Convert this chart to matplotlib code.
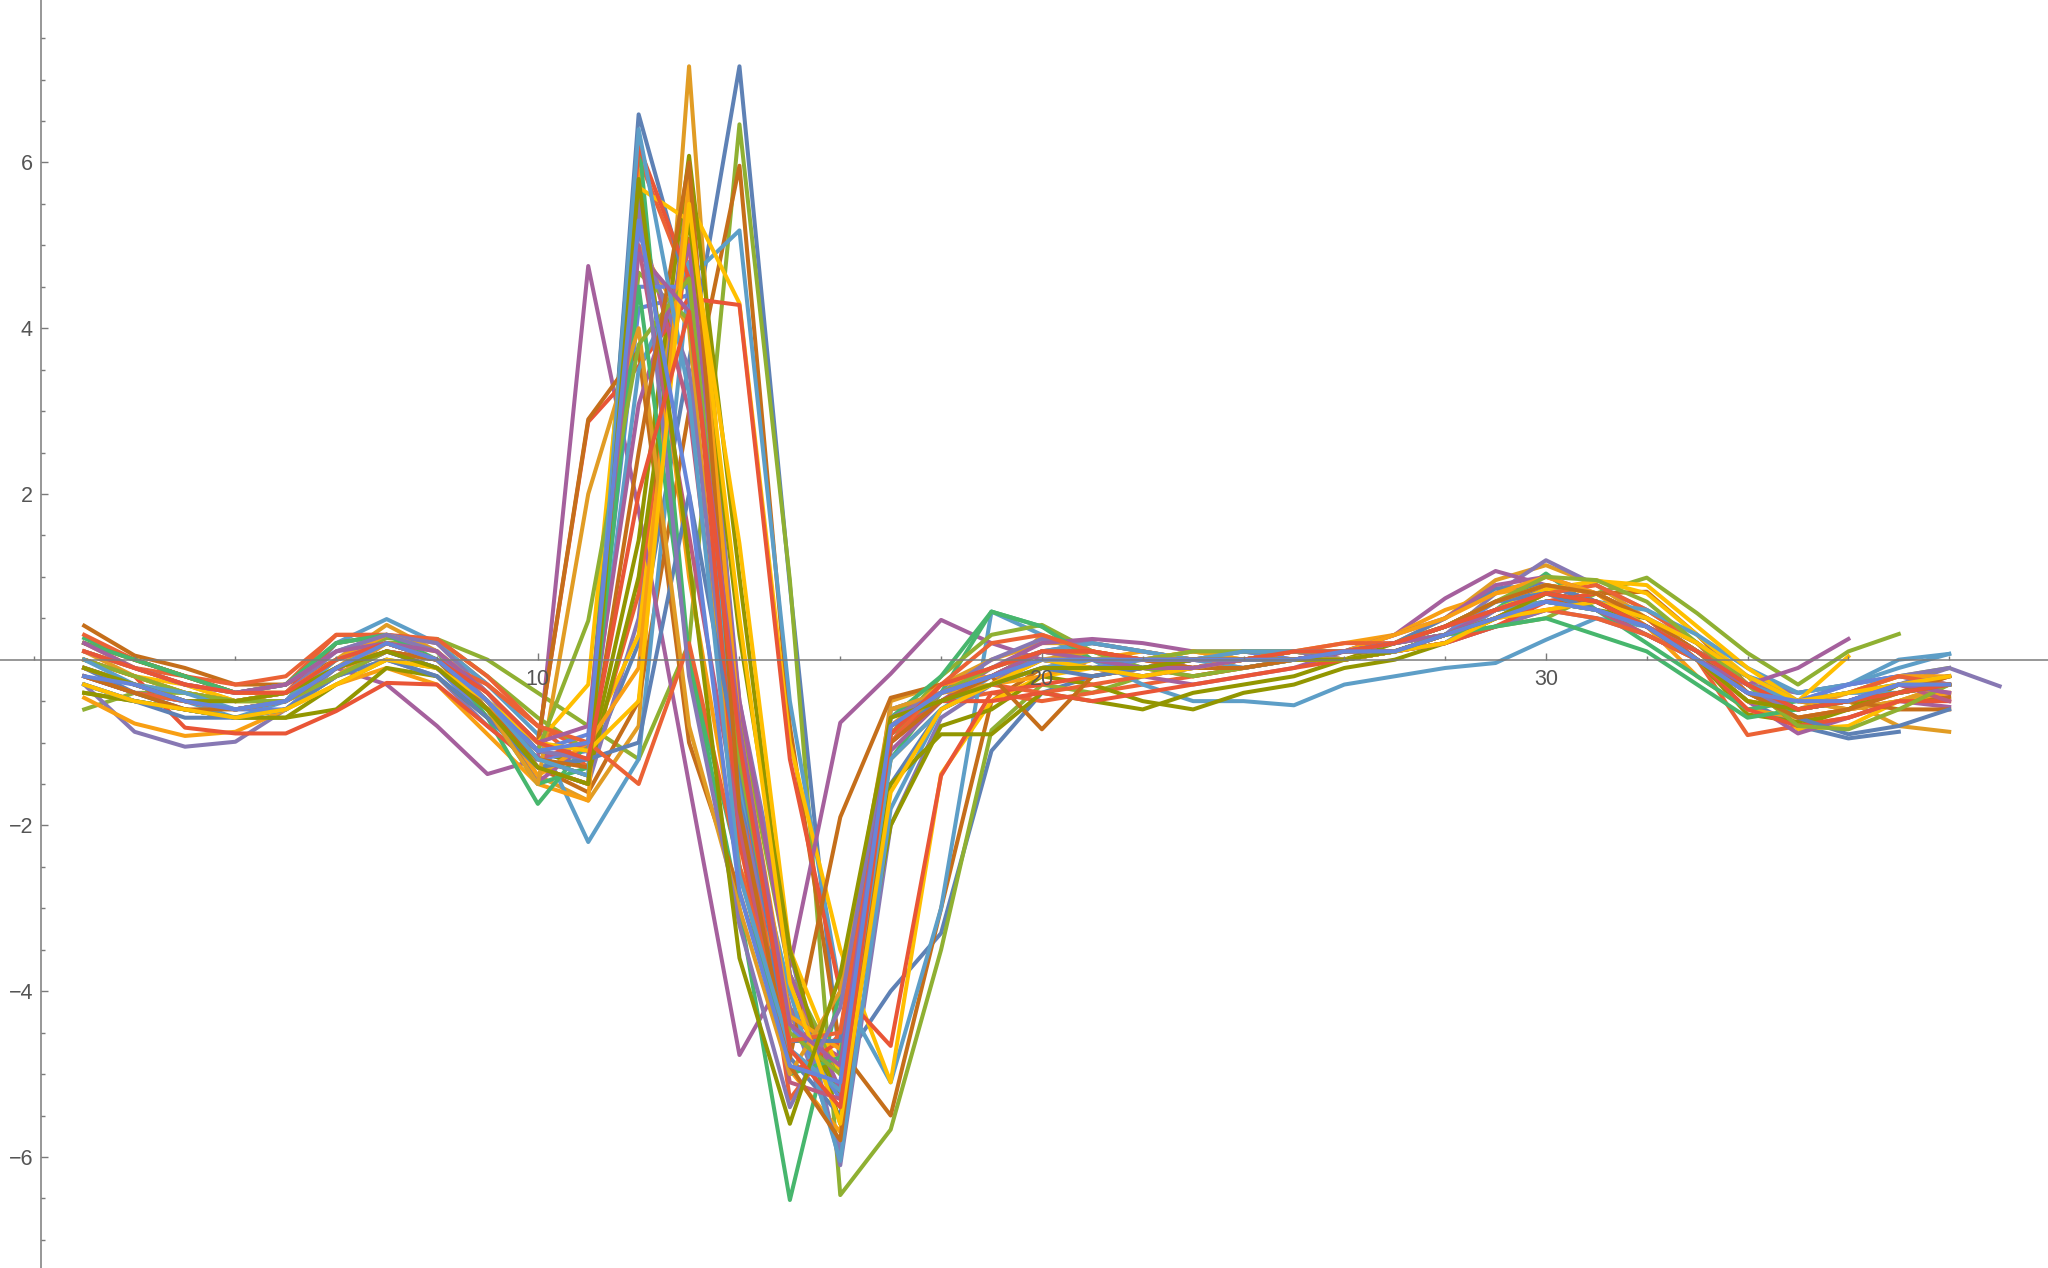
import numpy as np
import matplotlib
matplotlib.use("Agg")
import matplotlib.pyplot as plt
from matplotlib.ticker import FixedLocator, FuncFormatter

# Mathematica default palette (ColorData 97)
palette = ["#5E81B5", "#E19C24", "#8FB032", "#EB6235", "#8778B3", "#C56E1A",
           "#5D9EC7", "#FFBF00", "#A5609D", "#929600", "#E95536", "#6685D9",
           "#F89F13", "#BC5B80", "#47B66D"]

s01 = [-0.1,-0.4,-0.6,-0.7,-0.6,-0.2,0.1,-0.1,-0.6,-1.1,
       -1.3,0.2,3.6,7.16,0.9,-4.9,-4.0,-3.3,-1.1,-0.4,
       -0.2,-0.1,0.0,0.0,0.1,0.0,0.1,0.3,0.6,0.9,
       0.7,0.4,0.0,-0.5,-0.8,-0.95,-0.87]
s02 = [0.2,-0.1,-0.3,-0.5,-0.5,-0.1,0.3,0.1,-0.6,-1.4,
       -1.7,-0.8,7.16,-1.0,-4.3,-5.2,-1.2,-0.6,-0.3,0.3,
       0.1,0.0,-0.1,0.0,0.1,0.0,0.2,0.5,0.96,1.14,
       0.9,0.5,0.0,-0.5,-0.6,-0.5,-0.8,-0.87]
s03 = [-0.6,-0.4,-0.4,-0.5,-0.4,-0.1,0.2,0.25,0.0,-0.4,
       -0.8,-1.2,0.2,6.46,0.96,-6.46,-5.67,-3.5,-0.85,-0.3,
       -0.4,-0.2,-0.1,0.0,0.0,0.1,0.2,0.3,0.4,0.5,
       0.8,0.99,0.56,0.08,-0.3,0.1,0.31]
s04 = [0.1,-0.1,-0.2,-0.4,-0.3,0.3,0.3,0.2,-0.3,-0.8,
       -1.1,6.06,4.5,-1.5,-4.2,-5.0,-1.0,-0.5,-0.4,-0.5,
       -0.4,-0.3,-0.2,-0.1,0.0,0.0,0.1,0.2,0.5,0.8,
       0.7,0.4,0.0,-0.91,-0.8,-0.7,-0.5,-0.3]
s05 = [-0.3,-0.87,-1.05,-0.99,-0.6,-0.2,0.0,-0.2,-0.8,-1.3,
       -1.5,0.5,5.83,-0.5,-3.5,-6.1,-2.0,-0.7,-0.3,0.1,
       0.2,0.1,0.0,-0.1,0.0,0.1,0.1,0.3,0.8,1.2,
       0.9,0.6,0.2,-0.3,-0.5,-0.4,-0.3,-0.1,-0.32]
s06 = [0.41,0.05,-0.1,-0.3,-0.3,0.0,0.2,0.0,-0.5,-1.3,
       -1.6,-0.5,3.0,5.96,-0.8,-4.7,-5.5,-3.0,-0.5,-0.1,
       0.0,-0.1,-0.2,-0.1,0.0,0.0,0.1,0.3,0.5,0.7,
       0.8,0.82,0.3,-0.3,-0.5,-0.6,-0.5,-0.45]
s07 = [-0.2,-0.4,-0.5,-0.7,-0.5,0.2,0.49,0.2,-0.3,-0.9,
       -2.2,-1.2,4.6,5.18,-0.5,-4.0,-5.1,-3.0,0.58,0.3,
       0.0,-0.3,-0.5,-0.5,-0.55,-0.3,-0.2,-0.1,-0.04,0.24,
       0.5,0.4,0.1,-0.2,-0.4,-0.3,-0.1,0.07]
s08 = [0.0,-0.2,-0.3,-0.5,-0.5,-0.1,0.2,0.0,-0.5,-1.2,
       -1.0,0.3,5.52,4.3,-1.0,-3.5,-5.1,-1.38,-0.5,-0.2,
       -0.1,0.0,0.0,0.1,0.1,0.0,0.1,0.2,0.5,0.8,
       0.96,0.8,0.3,-0.2,-0.84,-0.8,-0.5,-0.3]
s09 = [-0.1,-0.3,-0.5,-0.6,-0.5,-0.1,-0.3,-0.8,-1.38,-1.2,
       4.75,1.8,-1.5,-4.77,-3.7,-0.76,-0.17,0.48,0.2,0.0,
       -0.1,-0.2,-0.3,-0.2,-0.1,0.1,0.3,0.74,1.07,0.9,
       0.7,0.4,0.0,-0.5,-0.89,-0.7,-0.5,-0.57]
s10 = [-0.4,-0.5,-0.6,-0.7,-0.7,-0.3,0.0,-0.1,-0.6,-1.1,
       -1.3,1.44,6.08,1.0,-3.8,-5.3,-2.0,-0.8,-0.6,-0.2,
       -0.3,-0.5,-0.6,-0.4,-0.3,-0.1,0.0,0.2,0.5,0.7,
       0.6,0.3,0.0,-0.66,-0.75,-0.6,-0.3,-0.2]
s11 = [0.2,0.0,-0.2,-0.4,-0.4,0.2,0.3,0.1,-0.4,-1.0,
       2.87,3.54,4.36,4.28,-1.2,-4.0,-4.66,-1.4,-0.4,-0.3,
       -0.2,-0.1,0.0,0.0,0.1,0.1,0.1,0.2,0.4,0.6,
       0.7,0.5,0.2,-0.3,-0.6,-0.5,-0.4,-0.2]
s12 = [-0.3,-0.5,-0.6,-0.7,-0.6,-0.2,0.1,-0.1,-0.7,-1.2,
       -1.1,4.24,4.4,-1.0,-4.6,-4.6,-0.9,-0.5,-0.2,0.0,
       -0.1,-0.2,-0.1,0.0,0.0,0.0,0.1,0.2,0.6,0.7,
       0.6,0.4,0.0,-0.4,-0.5,-0.3,-0.2,-0.3]
s13 = [-0.46,-0.77,-0.92,-0.87,-0.6,-0.3,-0.1,-0.3,-0.9,-1.5,
       -1.7,5.9,1.0,-2.5,-4.95,-5.7,-0.6,-0.4,-0.3,-0.2,
       0.0,0.1,0.0,0.0,0.1,0.2,0.3,0.6,0.8,0.9,
       0.8,0.4,-0.2,-0.6,-0.7,-0.6,-0.5,-0.4]
s14 = [0.0,-0.2,-0.4,-0.5,-0.4,0.0,0.2,0.0,-0.6,-1.3,
       -1.2,5.37,3.0,-2.0,-4.4,-4.8,-0.8,-0.4,-0.1,0.1,
       0.0,-0.1,-0.1,0.0,0.0,0.1,0.2,0.4,0.7,0.9,
       0.7,0.4,0.0,-0.4,-0.6,-0.5,-0.3,-0.4]
s15 = [0.26,0.0,-0.2,-0.4,-0.3,0.2,0.3,0.1,-0.7,-1.74,
       -1.0,6.3,0.0,-3.0,-6.52,-4.0,-1.2,-0.4,0.58,0.4,
       0.1,-0.1,-0.1,0.0,0.1,0.1,0.2,0.3,0.6,1.04,
       0.6,0.2,-0.2,-0.6,-0.5,-0.4,-0.3,-0.2]
s16 = [-0.2,-0.4,-0.6,-0.7,-0.6,-0.1,0.2,0.0,-0.5,-1.2,
       -1.4,6.58,4.4,-1.6,-4.8,-5.5,-1.5,-0.6,-0.3,0.0,
       -0.1,-0.1,0.0,0.0,0.1,0.1,0.2,0.5,0.86,0.9,
       0.7,0.5,0.1,-0.4,-0.6,-0.5,-0.4,-0.3]
s17 = [0.1,-0.2,-0.4,-0.5,-0.4,0.0,0.42,0.1,-0.5,-1.3,
       -1.5,5.0,4.0,-2.5,-4.0,-5.0,-0.5,-0.3,0.0,0.2,
       0.2,0.1,0.0,0.0,0.1,0.1,0.2,0.4,0.7,0.9,
       0.8,0.5,0.2,-0.3,-0.5,-0.6,-0.5,-0.3]
s18 = [-0.1,-0.3,-0.4,-0.5,-0.5,0.0,0.26,0.25,-0.2,-0.7,
       -1.1,4.67,4.1,-0.7,-3.8,-5.0,-0.9,-0.2,0.3,0.42,
       0.1,-0.1,-0.2,-0.1,0.0,0.1,0.1,0.3,0.5,0.7,
       0.6,0.4,0.1,-0.2,-0.5,-0.4,-0.2,-0.1]
s19 = [0.3,0.0,-0.2,-0.3,-0.2,0.3,0.3,0.25,-0.2,-0.8,
       -1.3,0.8,5.08,-1.2,-5.3,-4.5,-0.6,-0.5,-0.3,-0.4,
       -0.3,-0.2,-0.1,0.0,0.0,0.0,0.1,0.3,0.5,0.8,
       0.9,0.6,0.2,-0.4,-0.7,-0.6,-0.4,-0.3]
s20 = [-0.1,-0.3,-0.5,-0.5,-0.4,0.1,0.3,0.2,-0.4,-1.1,
       -1.2,5.16,3.5,-1.8,-4.2,-5.93,-1.0,-0.4,0.0,0.25,
       0.2,0.1,0.0,0.1,0.1,0.0,0.1,0.2,0.4,0.6,
       0.5,0.3,0.0,-0.3,-0.4,-0.3,-0.2,-0.1]
s21 = [0.2,0.0,-0.2,-0.4,-0.4,0.0,0.2,0.0,-0.5,-1.0,
       2.9,3.73,-1.0,-2.8,-4.81,-1.9,-0.46,-0.3,-0.2,-0.84,
       -0.2,-0.1,0.0,0.0,0.0,0.0,0.1,0.3,0.5,0.7,
       0.7,0.5,0.1,-0.3,-0.5,-0.5,-0.6,-0.6]
s22 = [-0.3,-0.5,-0.6,-0.7,-0.6,-0.2,0.1,0.0,-0.6,-1.3,
       -1.2,3.5,4.8,-1.5,-4.0,-6.05,-1.8,-0.6,-0.2,0.1,
       0.2,0.1,0.0,-0.1,0.0,0.1,0.2,0.4,0.6,0.8,
       0.7,0.6,0.3,-0.1,-0.4,-0.3,0.0,0.07]
s23 = [0.1,-0.1,-0.3,-0.4,-0.4,0.0,0.2,0.1,-0.4,-1.0,
       -0.3,5.7,5.3,1.4,-3.5,-5.0,-0.79,-0.5,-0.3,-0.1,
       0.0,0.0,0.1,0.0,0.0,0.0,0.1,0.3,0.6,0.85,
       0.95,0.9,0.4,-0.1,-0.5,0.04]
s24 = [-0.2,-0.4,-0.5,-0.6,-0.5,-0.1,0.1,-0.1,-0.6,-1.48,
       -1.0,3.08,5.0,-0.5,-3.8,-5.2,-1.1,-0.5,-0.1,0.2,
       0.25,0.2,0.1,0.1,0.0,0.1,0.3,0.5,0.9,1.0,
       0.8,0.5,0.1,-0.3,-0.1,0.25]
s25 = [-0.4,-0.5,-0.6,-0.7,-0.7,-0.6,-0.1,-0.2,-0.7,-1.2,
       -1.4,1.0,5.32,0.3,-3.5,-5.6,-1.5,-0.9,-0.9,-0.4,
       -0.5,-0.6,-0.4,-0.3,-0.2,0.0,0.2,0.4,0.6,0.7,
       0.6,0.5,0.1,-0.3,-0.8,-0.6,-0.3,-0.3]
s26 = [0.0,-0.2,-0.82,-0.89,-0.89,-0.62,-0.28,-0.3,-0.8,-1.3,
       -1.5,6.2,4.6,-2.2,-5.0,-4.6,-0.9,-0.5,-0.5,-0.4,
       -0.5,-0.4,-0.3,-0.2,-0.1,0.0,0.1,0.2,0.4,0.7,
       0.8,0.5,0.0,-0.6,-0.8,-0.7,-0.5,-0.5]
s27 = [-0.2,-0.4,-0.5,-0.6,-0.6,-0.1,0.1,-0.1,-0.5,-1.1,
       -0.9,4.5,4.5,-1.2,-4.4,-5.3,-0.6,-0.4,-0.2,0.0,
       -0.1,0.0,0.0,0.1,0.0,0.0,0.1,0.3,0.7,0.8,
       0.7,0.5,0.2,-0.2,-0.5,-0.3,-0.2,-0.3]
s28 = [0.0,-0.2,-0.4,-0.5,-0.4,0.0,0.3,0.1,-0.5,-1.4,
       -1.0,-0.1,5.8,-0.8,-4.3,-4.7,-0.8,-0.3,-0.2,0.1,
       0.0,0.0,0.1,0.0,0.1,0.1,0.3,0.5,0.8,1.0,
       0.8,0.4,0.0,-0.5,-0.6,-0.4,-0.2,-0.2]
s29 = [-0.1,-0.3,-0.5,-0.6,-0.5,-0.2,0.1,0.0,-0.5,-1.2,
       -1.0,5.0,1.5,-2.0,-5.1,-5.3,-1.0,-0.5,-0.2,0.0,
       0.0,0.0,-0.1,0.0,0.0,0.1,0.1,0.3,0.6,0.8,
       0.6,0.3,0.0,-0.4,-0.6,-0.5,-0.3,-0.5]
s30 = [0.2,0.0,-0.2,-0.4,-0.3,0.2,0.3,0.0,-0.6,-1.5,
       -1.3,4.5,0.0,-2.5,-5.0,-4.8,-0.7,-0.2,0.58,0.4,
       0.0,-0.1,0.0,0.0,0.1,0.1,0.2,0.3,0.4,0.5,
       0.3,0.1,-0.3,-0.7,-0.6,-0.5,-0.4,-0.3]
s31 = [-0.3,-0.5,-0.7,-0.7,-0.6,-0.2,0.0,-0.2,-0.7,-1.3,
       -1.2,-1.0,2.0,-1.3,-4.6,-4.6,-0.8,-0.5,-0.3,-0.1,
       -0.2,-0.1,0.0,0.0,0.0,0.1,0.2,0.4,0.7,0.8,
       0.6,0.4,0.0,-0.4,-0.7,-0.9,-0.8,-0.6]
s32 = [-0.1,-0.3,-0.5,-0.6,-0.5,-0.2,0.2,0.0,-0.6,-1.5,
       2.0,4.0,-0.8,-3.0,-5.0,-4.0,-0.6,-0.4,-0.3,0.0,
       0.1,0.0,0.0,0.0,0.1,0.1,0.2,0.4,0.7,0.9,
       0.8,0.5,0.1,-0.4,-0.6,-0.5,-0.4,-0.3]
s33 = [0.0,-0.2,-0.4,-0.5,-0.5,-0.2,0.1,0.0,-0.5,-1.1,
       0.47,3.8,4.6,-1.2,-4.5,-5.0,-0.9,-0.4,-0.1,0.1,
       0.0,0.0,0.1,0.1,0.1,0.1,0.2,0.4,0.7,1.0,
       0.96,0.7,0.2,-0.3,-0.8,-0.84,-0.6,-0.3]
s34 = [-0.2,-0.4,-0.5,-0.6,-0.5,-0.1,0.1,0.0,-0.3,-0.8,
       -1.0,-1.5,0.2,-2.5,-4.6,-4.5,-1.0,-0.3,0.2,0.3,
       0.1,0.0,-0.1,0.0,0.1,0.2,0.2,0.3,0.5,0.6,
       0.5,0.3,0.0,-0.3,-0.5,-0.4,-0.2,-0.3]
s35 = [0.1,-0.1,-0.3,-0.4,-0.3,0.1,0.3,0.1,-0.5,-1.1,
       -1.2,5.6,-0.2,-3.2,-5.4,-4.2,-0.7,-0.4,-0.2,0.0,
       -0.1,-0.1,0.0,0.0,0.0,0.1,0.2,0.4,0.6,0.8,
       0.7,0.4,0.0,-0.4,-0.6,-0.5,-0.3,-0.2]
s36 = [-0.2,-0.4,-0.6,-0.6,-0.5,-0.1,0.1,0.0,-0.6,-1.2,
       -1.3,2.5,6.0,-1.8,-4.9,-5.8,-1.0,-0.5,-0.2,0.1,
       0.1,0.0,-0.1,-0.1,0.0,0.1,0.2,0.4,0.7,0.9,
       0.8,0.5,0.1,-0.4,-0.7,-0.6,-0.4,-0.2]
s37 = [0.0,-0.3,-0.4,-0.6,-0.5,0.0,0.2,0.0,-0.5,-1.2,
       -1.4,6.4,3.2,-2.6,-4.7,-5.2,-1.2,-0.6,-0.3,-0.1,
       0.0,0.0,0.0,0.1,0.1,0.1,0.2,0.3,0.6,0.7,
       0.6,0.4,0.1,-0.3,-0.5,-0.4,-0.4,-0.3]
s38 = [-0.3,-0.5,-0.6,-0.7,-0.6,-0.3,0.0,-0.1,-0.5,-1.0,
       -1.1,-0.5,5.5,0.5,-3.9,-5.6,-1.6,-0.6,-0.3,0.0,
       -0.1,-0.2,-0.1,0.0,0.0,0.0,0.1,0.2,0.5,0.6,
       0.7,0.5,0.2,-0.2,-0.5,-0.4,-0.3,-0.2]
s39 = [0.2,-0.1,-0.3,-0.4,-0.3,0.1,0.2,0.1,-0.4,-1.0,
       -0.8,4.9,4.2,-0.8,-4.4,-4.9,-0.8,-0.4,-0.2,0.1,
       0.0,-0.1,-0.1,0.0,0.0,0.1,0.2,0.3,0.6,0.8,
       0.7,0.4,0.0,-0.3,-0.6,-0.5,-0.3,-0.4]
s40 = [-0.1,-0.3,-0.5,-0.5,-0.4,-0.1,0.1,-0.1,-0.6,-1.3,
       -1.5,5.8,1.2,-3.6,-5.6,-3.8,-0.7,-0.5,-0.3,-0.1,
       -0.1,-0.1,0.0,0.0,0.0,0.0,0.1,0.3,0.5,0.8,
       0.7,0.4,0.0,-0.5,-0.6,-0.5,-0.4,-0.3]
s41 = [0.1,-0.1,-0.3,-0.4,-0.4,0.0,0.2,0.0,-0.4,-1.0,
       -1.2,2.0,4.2,-1.0,-4.7,-5.4,-0.9,-0.3,-0.1,0.1,
       0.1,0.0,0.0,0.0,0.1,0.1,0.2,0.4,0.6,0.8,
       0.7,0.4,0.1,-0.3,-0.6,-0.5,-0.4,-0.3]
s42 = [-0.2,-0.3,-0.5,-0.6,-0.5,-0.1,0.2,0.0,-0.5,-1.1,
       -1.0,5.3,2.0,-2.8,-4.9,-5.1,-0.8,-0.4,-0.2,0.0,
       0.0,0.0,0.0,0.0,0.0,0.1,0.1,0.3,0.5,0.7,
       0.6,0.4,0.0,-0.4,-0.5,-0.5,-0.3,-0.3]

series = [s01, s02, s03, s04, s05, s06, s07, s08, s09, s10, s11, s12,
          s13, s14, s15, s16, s17, s18, s19, s20, s21, s22, s23, s24,
          s25, s26, s27, s28, s29, s30, s31, s32, s33, s34, s35, s36,
          s37, s38, s39, s40, s41, s42]

fig = plt.figure(figsize=(20.48, 12.68), dpi=100)
ax = fig.add_axes([0, 0, 1, 1])

for i, s in enumerate(series):
    x = np.arange(1, len(s) + 1)
    ax.plot(x, s, color=palette[i % len(palette)], lw=2.9, zorder=2)

ax.set_xlim(-0.67, 39.96)
ax.set_ylim(-7.34, 7.96)

axis_col = "#7a7a7a"
ax.spines["top"].set_visible(False)
ax.spines["right"].set_visible(False)
ax.spines["left"].set_position(("data", 0.15))
ax.spines["bottom"].set_position(("data", 0))
for sp in ("left", "bottom"):
    ax.spines[sp].set_color(axis_col)
    ax.spines[sp].set_linewidth(1.1)
    ax.spines[sp].set_zorder(3)
ax.xaxis.set_zorder(3)
ax.yaxis.set_zorder(3)

ax.xaxis.set_major_locator(FixedLocator([10, 20, 30]))
ax.xaxis.set_minor_locator(FixedLocator([v for v in range(0, 40, 2) if v not in (10, 20, 30)]))
ax.yaxis.set_major_locator(FixedLocator([-6, -4, -2, 2, 4, 6]))
ax.yaxis.set_minor_locator(FixedLocator([v / 2 for v in range(-14, 16) if v % 4 != 0]))

fmt = FuncFormatter(lambda v, p: f"{int(v)}".replace("-", "\u2212"))
ax.xaxis.set_major_formatter(fmt)
ax.yaxis.set_major_formatter(fmt)

ax.tick_params(which="both", direction="in", color=axis_col, width=1.0,
               labelcolor="#555555", labelsize=15.5)
ax.tick_params(which="major", length=5)
ax.tick_params(which="minor", length=3)
ax.tick_params(axis="x", pad=7)
ax.tick_params(axis="y", pad=6)
for lab in ax.get_xticklabels() + ax.get_yticklabels():
    lab.set_family(["Liberation Sans", "DejaVu Sans"])

fig.savefig("out.png", dpi=100, facecolor="white")
